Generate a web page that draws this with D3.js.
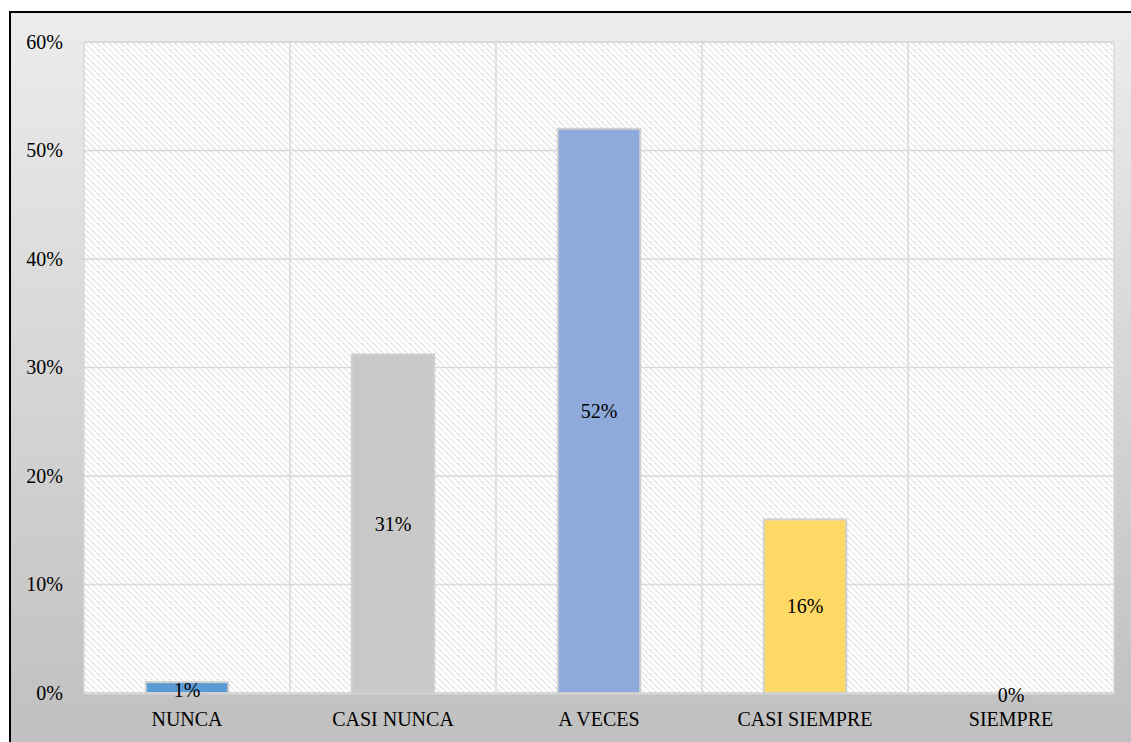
<!DOCTYPE html>
<head>
  <meta charset="utf-8">
  <script src="https://d3js.org/d3.v7.min.js"></script>
  <style>
    body { margin: 0; background: #ffffff; }
    svg { display: block; }
    text { font-family: "Liberation Serif", "Times New Roman", serif; fill: #000; }
  </style>
</head>
<body>
<script>
  // datos
  var categorias = ["NUNCA", "CASI NUNCA", "A VECES", "CASI SIEMPRE", "SIEMPRE"];
  var valores = [0.01, 0.312, 0.52, 0.16, 0.0];
  var etiquetas = ["1%", "31%", "52%", "16%", "0%"];
  var colores = ["#5b9bd5", "#c9c9c9", "#8eaadb", "#ffd966", "#a5a5a5"];
  var ticksY = [0, 0.1, 0.2, 0.3, 0.4, 0.5, 0.6];

  var w = 1131, h = 742;
  var margin = {top: 42, right: 17, bottom: 49, left: 84};
  var fs = "20px";

  var svg = d3.select("body").append("svg")
    .attr("width", w)
    .attr("height", h);

  var defs = svg.append("defs");

  // fondo degradado
  var grad = defs.append("linearGradient")
    .attr("id", "fondo")
    .attr("x1", 0).attr("y1", 0).attr("x2", 0).attr("y2", 1);
  grad.append("stop").attr("offset", "0%").attr("stop-color", "#ececec");
  grad.append("stop").attr("offset", "100%").attr("stop-color", "#bfbfbf");

  // trama diagonal
  var pat = defs.append("pattern")
    .attr("id", "trama")
    .attr("patternUnits", "userSpaceOnUse")
    .attr("width", 6).attr("height", 6);
  pat.append("rect").attr("width", 6).attr("height", 6).attr("fill", "#ffffff");
  pat.append("path")
    .attr("d", "M-1,-1 L7,7 M-1,5 L1,7 M5,-1 L7,1")
    .attr("stroke", "#d3d3d3")
    .attr("stroke-width", 1.2)
    .attr("stroke-dasharray", "2,1");

  svg.append("rect")
    .attr("x", 10).attr("y", 12)
    .attr("width", w).attr("height", h)
    .attr("fill", "url(#fondo)")
    .attr("stroke", "#000")
    .attr("stroke-width", 2);

  var x = d3.scaleBand()
    .domain(categorias)
    .range([margin.left, w - margin.right])
    .paddingInner(0)
    .paddingOuter(0);

  var y = d3.scaleLinear()
    .domain([0, 0.6])
    .range([h - margin.bottom, margin.top]);

  // área del gráfico
  svg.append("rect")
    .attr("x", margin.left).attr("y", margin.top)
    .attr("width", w - margin.left - margin.right)
    .attr("height", h - margin.top - margin.bottom)
    .attr("fill", "url(#trama)")
    .attr("stroke", "#d9d9d9")
    .attr("stroke-width", 1.5);

  // cuadrícula horizontal
  svg.append("g")
    .selectAll("line")
    .data(ticksY)
    .enter().append("line")
    .attr("x1", margin.left).attr("x2", w - margin.right)
    .attr("y1", function(d) { return y(d); })
    .attr("y2", function(d) { return y(d); })
    .attr("stroke", "#d9d9d9")
    .attr("stroke-width", 1.5);

  // cuadrícula vertical
  svg.append("g")
    .selectAll("line")
    .data(categorias.slice(1))
    .enter().append("line")
    .attr("x1", function(d) { return x(d); })
    .attr("x2", function(d) { return x(d); })
    .attr("y1", margin.top).attr("y2", h - margin.bottom)
    .attr("stroke", "#d9d9d9")
    .attr("stroke-width", 1.5);

  // eje Y
  var ejeY = svg.append("g")
    .attr("transform", "translate(" + (margin.left - 21) + ",0)")
    .call(d3.axisLeft(y).tickValues(ticksY).tickFormat(d3.format(".0%")).tickSize(0).tickPadding(0));
  ejeY.select(".domain").remove();
  ejeY.attr("font-family", null).attr("font-size", null);
  ejeY.selectAll("text").style("font-size", fs);

  // eje X
  var ejeX = svg.append("g")
    .attr("transform", "translate(0," + (h - margin.bottom) + ")")
    .call(d3.axisBottom(x).tickSize(0).tickPadding(19));
  ejeX.select(".domain").attr("stroke", "#d9d9d9").attr("stroke-width", 2);
  ejeX.attr("font-family", null).attr("font-size", null);
  ejeX.selectAll("text").style("font-size", fs);

  // barras
  var bw = x.bandwidth() * 0.4;
  svg.append("g")
    .selectAll("rect")
    .data(valores)
    .enter().append("rect")
    .attr("x", function(d, i) { return x(categorias[i]) + (x.bandwidth() - bw) / 2; })
    .attr("y", function(d) { return y(d); })
    .attr("width", bw)
    .attr("height", function(d) { return y(0) - y(d); })
    .attr("fill", function(d, i) { return colores[i]; })
    .attr("stroke", function(d) { return d > 0 ? "#d0d0d0" : "none"; })
    .attr("stroke-width", 2);

  // etiquetas de datos
  svg.append("g")
    .selectAll("text")
    .data(valores)
    .enter().append("text")
    .attr("x", function(d, i) { return x(categorias[i]) + x.bandwidth() / 2; })
    .attr("y", function(d) {
      if (d === 0) return y(0) + 9;
      if (d < 0.05) return y(0) + 4;
      return (y(d) + y(0)) / 2 + 7;
    })
    .attr("text-anchor", "middle")
    .style("font-size", fs)
    .text(function(d, i) { return etiquetas[i]; });
</script>
</body>
